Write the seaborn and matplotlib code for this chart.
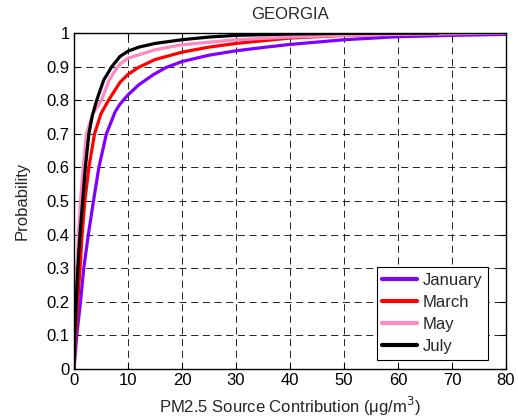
import matplotlib
matplotlib.use("Agg")
import matplotlib.pyplot as plt
import seaborn as sns
import pandas as pd
from matplotlib.lines import Line2D

sns.set_style("ticks")
plt.rcParams['font.family'] = ['Liberation Sans', 'DejaVu Sans']

months = ["January", "March", "May", "July"]
colors = ["#8000FF", "#FF0000", "#FF88C2", "#000000"]

jan_x = [0, 0.5, 1.2, 1.8, 2.65, 3.6, 4.6, 6.0, 7.6, 8.5, 10, 12, 14.7, 17, 20, 25, 30, 35, 40, 50, 60, 70, 80]
jan_y = [0, 0.10, 0.20, 0.30, 0.40, 0.50, 0.60, 0.70, 0.765, 0.788, 0.816, 0.846, 0.876, 0.897, 0.915, 0.934, 0.947, 0.957, 0.966, 0.980, 0.989, 0.993, 0.996]

mar_x = [0, 0.3, 0.7, 1.1, 1.5, 2.0, 2.75, 3.8, 5.0, 6.4, 8.5, 10, 12, 15, 20, 25, 30, 40, 50, 60, 70]
mar_y = [0, 0.10, 0.20, 0.30, 0.40, 0.50, 0.60, 0.70, 0.76, 0.80, 0.853, 0.877, 0.898, 0.921, 0.943, 0.958, 0.969, 0.985, 0.993, 0.997, 1.0]

may_x = [0, 0.15, 0.35, 0.55, 0.8, 1.2, 1.7, 2.3, 3.5, 5.1, 6.5, 8.0, 8.5, 10, 15, 20, 30, 40, 50, 60, 70, 80]
may_y = [0, 0.10, 0.20, 0.30, 0.40, 0.50, 0.60, 0.70, 0.76, 0.80, 0.86, 0.897, 0.907, 0.925, 0.95, 0.965, 0.98, 0.988, 0.993, 0.996, 0.998, 1.0]

jul_x = [0, 0.15, 0.4, 0.7, 1.1, 1.6, 2.1, 2.75, 3.4, 4.2, 5.5, 7.0, 8.5, 10, 12, 15, 20, 25, 30, 40, 50, 67.4]
jul_y = [0, 0.10, 0.20, 0.30, 0.40, 0.50, 0.60, 0.70, 0.755, 0.80, 0.86, 0.90, 0.930, 0.946, 0.958, 0.969, 0.980, 0.988, 0.993, 0.997, 0.999, 1.0]

series = {"January": (jan_x, jan_y), "March": (mar_x, mar_y),
          "May": (may_x, may_y), "July": (jul_x, jul_y)}

rows = []
for m in months:
    xs, ys = series[m]
    for a, b in zip(xs, ys):
        rows.append({"month": m, "x": a, "y": b})
df = pd.DataFrame(rows)

fig = plt.figure(figsize=(5.18, 4.20), dpi=100)
ax = fig.add_axes([0.1429, 0.1214, 0.8339, 0.8000])

sns.lineplot(data=df, x="x", y="y", hue="month", hue_order=months,
             palette=dict(zip(months, colors)), sort=False, linewidth=2.3,
             ax=ax, legend=False)
for ln in ax.get_lines():
    ln.set_solid_joinstyle("round")

ax.set_xlim(0, 80)
ax.set_ylim(0, 1)
ax.set_xticks(range(0, 81, 10))
ax.set_yticks([i / 10 for i in range(11)])
ax.set_yticklabels(["0"] + [f"0.{i}" for i in range(1, 10)] + ["1"])
ax.tick_params(direction="in", top=True, right=True, labelsize=12, length=4,
               width=0.8, colors="black", pad=3)
ax.grid(True, color="black", linestyle=(0, (8.5, 5.5)), linewidth=0.6)
for s in ax.spines.values():
    s.set_color("black")
    s.set_linewidth(1.0)

ax.set_title("GEORGIA", fontsize=12, pad=10)
ax.set_xlabel("PM2.5 Source Contribution (μg/m$^3$)", fontsize=12, labelpad=5)
ax.set_ylabel("Probability", fontsize=12, labelpad=12)

handles = [Line2D([], [], color=c, linewidth=3) for c in colors]
leg = ax.legend(handles, months, loc="lower right", bbox_to_anchor=(0.958, 0.027),
                fontsize=12, frameon=True, fancybox=False, framealpha=1,
                edgecolor="black", handlelength=2.1, handletextpad=0.3,
                borderpad=0.35, labelspacing=0.42, borderaxespad=0)
leg.get_frame().set_linewidth(0.8)

fig.savefig("out.png", dpi=100)
